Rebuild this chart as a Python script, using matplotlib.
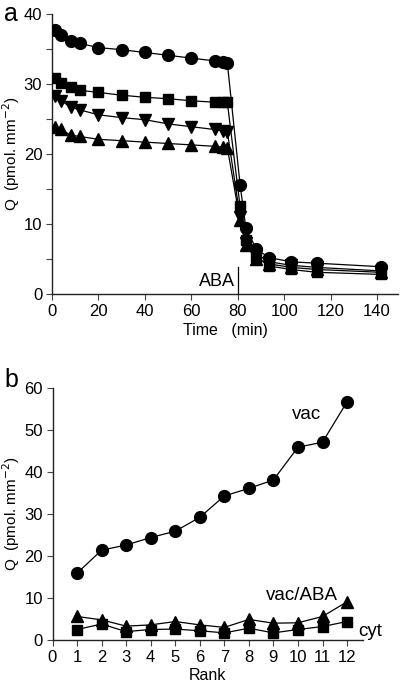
import matplotlib
matplotlib.use("Agg")
import matplotlib.pyplot as plt
from matplotlib.ticker import MultipleLocator

plt.rcParams['font.family'] = ['Liberation Sans', 'DejaVu Sans']

# Panel a data
time_min = [1.5, 4, 8, 12, 20, 30, 40, 50, 60, 70, 73.5, 75.5,
            81, 83.5, 88, 93.5, 103, 114, 141.5]
q_circle = [37.7, 37.0, 36.2, 35.8, 35.2, 34.9, 34.5, 34.1, 33.7, 33.3, 33.1, 33.0,
            15.6, 9.4, 6.4, 5.2, 4.6, 4.4, 3.9]
q_square = [30.8, 30.2, 29.6, 29.1, 28.8, 28.4, 28.1, 27.9, 27.6, 27.4, 27.4, 27.4,
            12.5, 7.7, 5.3, 4.0, 3.5, 3.1, 2.8]
q_down = [28.3, 27.6, 26.7, 26.3, 25.6, 25.2, 24.9, 24.3, 23.9, 23.5, 23.3, 23.2,
          11.0, 7.3, 5.7, 4.6, 4.1, 3.8, 3.3]
q_up = [23.9, 23.5, 22.7, 22.5, 22.1, 21.9, 21.7, 21.5, 21.3, 21.1, 21.0, 20.9,
        10.5, 7.0, 5.0, 4.3, 3.8, 3.5, 3.1]
aba_time = 80
aba_height = 3.9

# Panel b data
rank = list(range(1, 13))
vac = [15.9, 21.4, 22.6, 24.4, 25.9, 29.2, 34.3, 36.1, 38.1, 45.9, 47.1, 56.7]
vac_aba = [5.6, 4.8, 3.3, 3.6, 4.4, 3.6, 3.0, 4.9, 4.0, 4.1, 5.6, 9.1]
cyt = [2.5, 3.8, 2.0, 2.5, 2.6, 2.2, 1.7, 2.8, 1.7, 2.5, 3.2, 4.4]

W, H = 400, 683
fig = plt.figure(figsize=(W / 100, H / 100), dpi=100)

def style(ax):
    for s in ('top', 'right'):
        ax.spines[s].set_visible(False)
    for s in ('left', 'bottom'):
        ax.spines[s].set_linewidth(1.0)
        ax.spines[s].set_color('#222222')
    ax.tick_params(which='both', direction='out', length=4, width=0.8,
                   color='#444444', labelsize=12, pad=3)

# Panel a
axa = fig.add_axes([52 / W, 1 - 294 / H, 346 / W, 280 / H])
style(axa)
lw = 0.9
axa.plot(time_min, q_circle, '-o', color='black', lw=lw, ms=8.5, zorder=3)
axa.plot(time_min, q_square, '-s', color='black', lw=lw, ms=7.5, zorder=3)
axa.plot(time_min, q_down, '-v', color='black', lw=lw, ms=8.5, zorder=3)
axa.plot(time_min, q_up, '-^', color='black', lw=lw, ms=8.5, zorder=3)
axa.set_xlim(0, 149)
axa.set_ylim(0, 40)
axa.xaxis.set_major_locator(MultipleLocator(20))
axa.yaxis.set_major_locator(MultipleLocator(10))
axa.yaxis.set_minor_locator(MultipleLocator(5))
axa.plot([aba_time, aba_time], [0, aba_height], color='black', lw=0.9)
axa.text(aba_time - 1.2, 0.5, 'ABA', ha='right', va='bottom', fontsize=13)
axa.set_xlabel('Time   (min)', fontsize=11.5, labelpad=3)
axa.set_ylabel('Q  (pmol. mm$^{-2}$)', fontsize=11)
axa.yaxis.set_label_coords(-0.088, 0.5)
fig.text(4 / W, 1 - 14 / H, 'a', fontsize=18, va='center', ha='left')

# Panel b
axb = fig.add_axes([52.5 / W, 1 - 640 / H, 310.5 / W, 252 / H])
style(axb)
axb.plot(rank, vac, '-o', color='black', lw=lw, ms=8.5, zorder=3)
axb.plot(rank, vac_aba, '-^', color='black', lw=lw, ms=8.5, zorder=3)
axb.plot(rank, cyt, '-s', color='black', lw=lw, ms=7.5, zorder=3)
axb.set_xlim(0, 12.65)
axb.set_ylim(0, 60)
axb.xaxis.set_major_locator(MultipleLocator(1))
axb.yaxis.set_major_locator(MultipleLocator(10))
axb.text(10.35, 53.6, 'vac', ha='center', va='center', fontsize=13.5)
axb.text(10.15, 10.7, 'vac/ABA', ha='center', va='center', fontsize=13.5)
axb.text(12.93, 2.0, 'cyt', ha='center', va='center', fontsize=13.5, clip_on=False)
axb.set_xlabel('Rank', fontsize=11.5, labelpad=2)
axb.set_ylabel('Q  (pmol. mm$^{-2}$)', fontsize=11)
axb.yaxis.set_label_coords(-0.098, 0.5)
fig.text(4 / W, 1 - 380 / H, 'b', fontsize=18, va='center', ha='left')

fig.savefig('out.png', dpi=100)
